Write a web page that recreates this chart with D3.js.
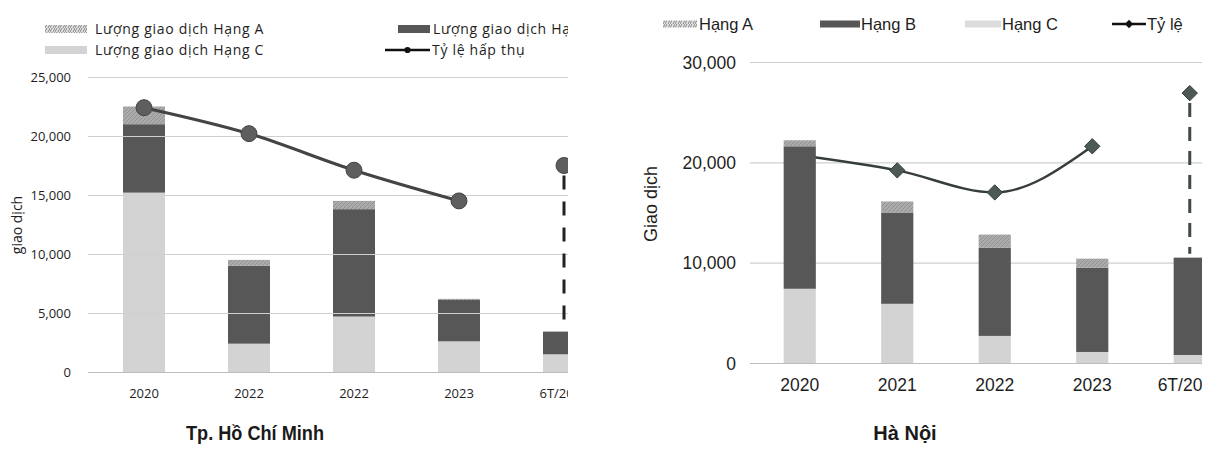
<!DOCTYPE html>
<html>
<head>
<meta charset="utf-8">
<script src="https://cdn.jsdelivr.net/npm/d3@7"></script>
<style>
  html, body { margin: 0; padding: 0; background: #fff; }
  svg { display: block; }
</style>
</head>
<body>
<svg id="chart" width="1216" height="470"></svg>
<script>
// ---- Tp. Hồ Chí Minh: transactions by grade (stacked C, B, A) ----
const hcmCategories = ["2020", "2022", "2022", "2023", "6T/2024"];
const hcmHangC = [15200, 2400, 4700, 2600, 1500];
const hcmHangB = [5800, 6600, 9100, 3500, 1900];
const hcmHangA = [1500, 500, 700, 100, 60];
// absorption rate, plotted against the transaction axis
const hcmRate = [22400, 20200, 17100, 14500, 17500];
const hcmTicks = [0, 5000, 10000, 15000, 20000, 25000];

// ---- Hà Nội ----
const hnCategories = ["2020", "2021", "2022", "2023", "6T/2024"];
const hnHangC = [7400, 5900, 2700, 1100, 800];
const hnHangB = [14200, 9100, 8800, 8400, 9700];
const hnHangA = [600, 1100, 1300, 900, 0];
const hnRate = [20700, 19200, 17000, 21600, 26900];
const hnTicks = [0, 10000, 20000, 30000];

const colC = "#d3d3d3", colB = "#575757", colAFill = "#ababab";

const svg = d3.select("#chart");
const defs = svg.append("defs");

// textured fill for grade A
const pat = defs.append("pattern").attr("id", "hatchA")
  .attr("patternUnits", "userSpaceOnUse").attr("width", 4).attr("height", 4);
pat.append("rect").attr("width", 4).attr("height", 4).attr("fill", colAFill);
pat.append("path").attr("d", "M0,4L4,0M-1,1L1,-1M3,5L5,3")
  .attr("stroke", "#8c8c8c").attr("stroke-width", 0.8);

const patL = defs.append("pattern").attr("id", "hatchLegend")
  .attr("patternUnits", "userSpaceOnUse").attr("width", 5).attr("height", 4);
patL.append("rect").attr("width", 5).attr("height", 4).attr("fill", "#e4e4e4");
patL.append("path").attr("d", "M0,4L2,0M3,4L5,0")
  .attr("stroke", "#7a7a7a").attr("stroke-width", 0.9);

function stackRows(cats, c, b, a) {
  return cats.map((k, i) => ({ key: i, label: k, C: c[i], B: b[i], A: a[i] }));
}

function clipRect(id, right) {
  defs.append("clipPath").attr("id", id)
    .append("rect").attr("x", 0).attr("y", 0).attr("width", right).attr("height", 470);
  return `url(#${id})`;
}

function drawPanel(cfg) {
  const g = svg.append("g").attr("clip-path", clipRect(cfg.id + "-clip", cfg.clipRight));

  const rows = stackRows(cfg.cats, cfg.C, cfg.B, cfg.A);
  const x = d3.scaleBand().domain(rows.map(d => d.key))
    .range(cfg.xRange).paddingInner(cfg.pad).paddingOuter(cfg.pad / 2);
  const y = d3.scaleLinear().domain(cfg.yDomain).range(cfg.yRange);

  // y tick labels
  const yAxis = d3.axisLeft(y).tickValues(cfg.ticks).tickSize(0)
    .tickFormat(d3.format(","));
  const ya = g.append("g").attr("transform", `translate(${cfg.labelX},0)`).call(yAxis);
  ya.select(".domain").remove();
  ya.selectAll("text").attr("font-family", cfg.font).attr("font-size", cfg.tickSize)
    .attr("fill", "#1e1e1e").attr("x", 0).attr("dy", "0.35em");

  // gridlines
  g.append("g").selectAll("line").data(cfg.ticks).join("line")
    .attr("x1", cfg.gridX0).attr("x2", cfg.clipRight)
    .attr("y1", d => y(d) + 0.5).attr("y2", d => y(d) + 0.5)
    .attr("stroke", d => d === 0 ? "#bdbdbd" : "#cfcfcf").attr("stroke-width", 1.2);

  // y title
  g.append("text")
    .attr("transform", `translate(${cfg.titleX},${cfg.titleY}) rotate(-90)`)
    .attr("text-anchor", "middle").attr("dy", "0.35em")
    .attr("font-family", cfg.font).attr("font-size", cfg.yTitleSize).attr("fill", "#1e1e1e")
    .text(cfg.yTitle);

  // x axis labels
  const xAxis = d3.axisBottom(x).tickSize(0).tickFormat(k => rows[k].label);
  const xa = g.append("g").attr("transform", `translate(0,${cfg.xLabelY})`).call(xAxis);
  xa.select(".domain").remove();
  xa.selectAll("text").attr("font-family", cfg.font).attr("font-size", cfg.xTickSize)
    .attr("fill", "#1e1e1e").attr("dy", "0.35em").attr("y", 0);

  const stack = d3.stack().keys(["C", "B", "A"])(rows);
  const fills = { C: colC, B: colB, A: "url(#hatchA)" };

  const lineLayer = g.append("g");
  const barLayer = g.append("g");
  if (cfg.lineOnTop) barLayer.lower();

  barLayer.selectAll("g").data(stack).join("g")
    .attr("fill", s => fills[s.key])
    .selectAll("rect").data(s => s).join("rect")
    .attr("x", d => x(d.data.key))
    .attr("width", x.bandwidth())
    .attr("y", d => y(d[1]))
    .attr("height", d => Math.max(0, y(d[0]) - y(d[1])));

  // rate line (first four points joined; the latest period stands alone)
  const pts = cfg.rate.map((v, i) => ({ x: x(i) + x.bandwidth() / 2, y: y(v), i }));
  const line = d3.line().x(d => d.x).y(d => d.y).curve(d3.curveMonotoneX);
  lineLayer.append("path").datum(pts.slice(0, 4))
    .attr("d", line).attr("fill", "none")
    .attr("stroke", cfg.lineColor).attr("stroke-width", cfg.lineWidth);

  const last = pts[4];
  const barTop = y(cfg.C[4] + cfg.B[4] + cfg.A[4]);
  lineLayer.append("line")
    .attr("x1", last.x).attr("x2", last.x)
    .attr("y1", last.y + cfg.markerR + 2).attr("y2", barTop - 4)
    .attr("stroke", cfg.dashColor).attr("stroke-width", 3)
    .attr("stroke-dasharray", cfg.dash);

  const sym = d3.symbol().type(cfg.marker).size(cfg.markerArea);
  lineLayer.selectAll("path.mk").data(pts).join("path").attr("class", "mk")
    .attr("transform", d => `translate(${d.x},${d.y})`)
    .attr("d", sym)
    .attr("fill", cfg.markerFill).attr("stroke", cfg.lineColor).attr("stroke-width", 1);

  // legend
  const lg = g.append("g").attr("clip-path", clipRect(cfg.id + "-lclip", cfg.legendClip));
  cfg.legend.forEach(it => {
    const row = lg.append("g");
    if (it.type === "line") {
      row.append("line").attr("x1", it.sx).attr("x2", it.sx + it.sw)
        .attr("y1", it.y).attr("y2", it.y)
        .attr("stroke", "#111").attr("stroke-width", 2.5);
      row.append("path").attr("transform", `translate(${it.sx + it.sw / 2},${it.y})`)
        .attr("d", d3.symbol().type(cfg.marker).size(cfg.legendMarkerArea))
        .attr("fill", "#111");
    } else {
      row.append("rect").attr("x", it.sx).attr("y", it.y - it.sh / 2)
        .attr("width", it.sw).attr("height", it.sh).attr("fill", it.fill);
    }
    row.append("text").attr("x", it.tx).attr("y", it.y).attr("dy", "0.35em")
      .attr("font-family", cfg.font).attr("font-size", cfg.legendSize)
      .attr("letter-spacing", cfg.legendSpacing || 0).attr("fill", "#1e1e1e")
      .text(it.text);
  });

  // panel caption
  const cap = svg.append("text").attr("x", cfg.capX).attr("y", cfg.capY)
    .attr("text-anchor", "middle")
    .attr("font-family", "'Liberation Sans', Arial, sans-serif")
    .attr("font-weight", "bold").attr("font-size", 20).attr("fill", "#1a1a1a")
    .text(cfg.caption);
  if (cfg.capLength) cap.attr("textLength", cfg.capLength).attr("lengthAdjust", "spacingAndGlyphs");
}

drawPanel({
  id: "hcm",
  cats: hcmCategories, C: hcmHangC, B: hcmHangB, A: hcmHangA, rate: hcmRate,
  ticks: hcmTicks, yDomain: [0, 25000], yRange: [372, 77],
  xRange: [91.5, 616.5], pad: 0.6,
  clipRight: 568, legendClip: 568, gridX0: 88, labelX: 71,
  font: "'Open Sans', 'Noto Sans', sans-serif",
  tickSize: 13, xTickSize: 13, xLabelY: 393,
  yTitle: "giao dịch", titleX: 17, titleY: 225, yTitleSize: 14,
  lineOnTop: true, lineColor: "#444", lineWidth: 3, dashColor: "#222", dash: "14,12",
  marker: d3.symbolCircle, markerArea: 200, markerR: 8, markerFill: "#5e5e5e",
  legendMarkerArea: 30, legendSize: 14, legendSpacing: 0.7,
  legend: [
    { sx: 45, sw: 42, sh: 8, fill: "url(#hatchLegend)", tx: 95, y: 29, text: "Lượng giao dịch Hạng A" },
    { sx: 398, sw: 32, sh: 8, fill: colB, tx: 433, y: 29, text: "Lượng giao dịch Hạng B" },
    { sx: 45, sw: 42, sh: 8, fill: colC, tx: 95, y: 50, text: "Lượng giao dịch Hạng C" },
    { type: "line", sx: 385, sw: 45, tx: 432, y: 50, text: "Tỷ lệ hấp thụ" }
  ],
  caption: "Tp. Hồ Chí Minh", capX: 255, capY: 440, capLength: 138
});

drawPanel({
  id: "hn",
  cats: hnCategories, C: hnHangC, B: hnHangB, A: hnHangA, rate: hnRate,
  ticks: hnTicks, yDomain: [0, 30000], yRange: [363, 62],
  xRange: [751, 1238.5], pad: 0.67,
  clipRight: 1202, legendClip: 1184, gridX0: 750, labelX: 736,
  font: "'Liberation Sans', Arial, sans-serif",
  tickSize: 17.5, xTickSize: 17.5, xLabelY: 385,
  yTitle: "Giao dịch", titleX: 651, titleY: 204, yTitleSize: 18,
  lineOnTop: false, lineColor: "#363e3b", lineWidth: 2.5, dashColor: "#3f4a45", dash: "14,10",
  marker: d3.symbolDiamond2 || d3.symbolDiamond, markerArea: 150, markerR: 8, markerFill: "#4d5a54",
  legendMarkerArea: 45, legendSize: 16.5,
  legend: [
    { sx: 663, sw: 34, sh: 7, fill: "url(#hatchLegend)", tx: 699, y: 24, text: "Hạng A" },
    { sx: 820, sw: 40, sh: 7, fill: colB, tx: 861, y: 24, text: "Hạng B" },
    { sx: 965, sw: 36, sh: 7, fill: "#dcdcdc", tx: 1002, y: 24, text: "Hạng C" },
    { type: "line", sx: 1112, sw: 34, tx: 1147, y: 24, text: "Tỷ lệ hấp thụ" }
  ],
  caption: "Hà Nội", capX: 905, capY: 440
});
</script>
</body>
</html>
